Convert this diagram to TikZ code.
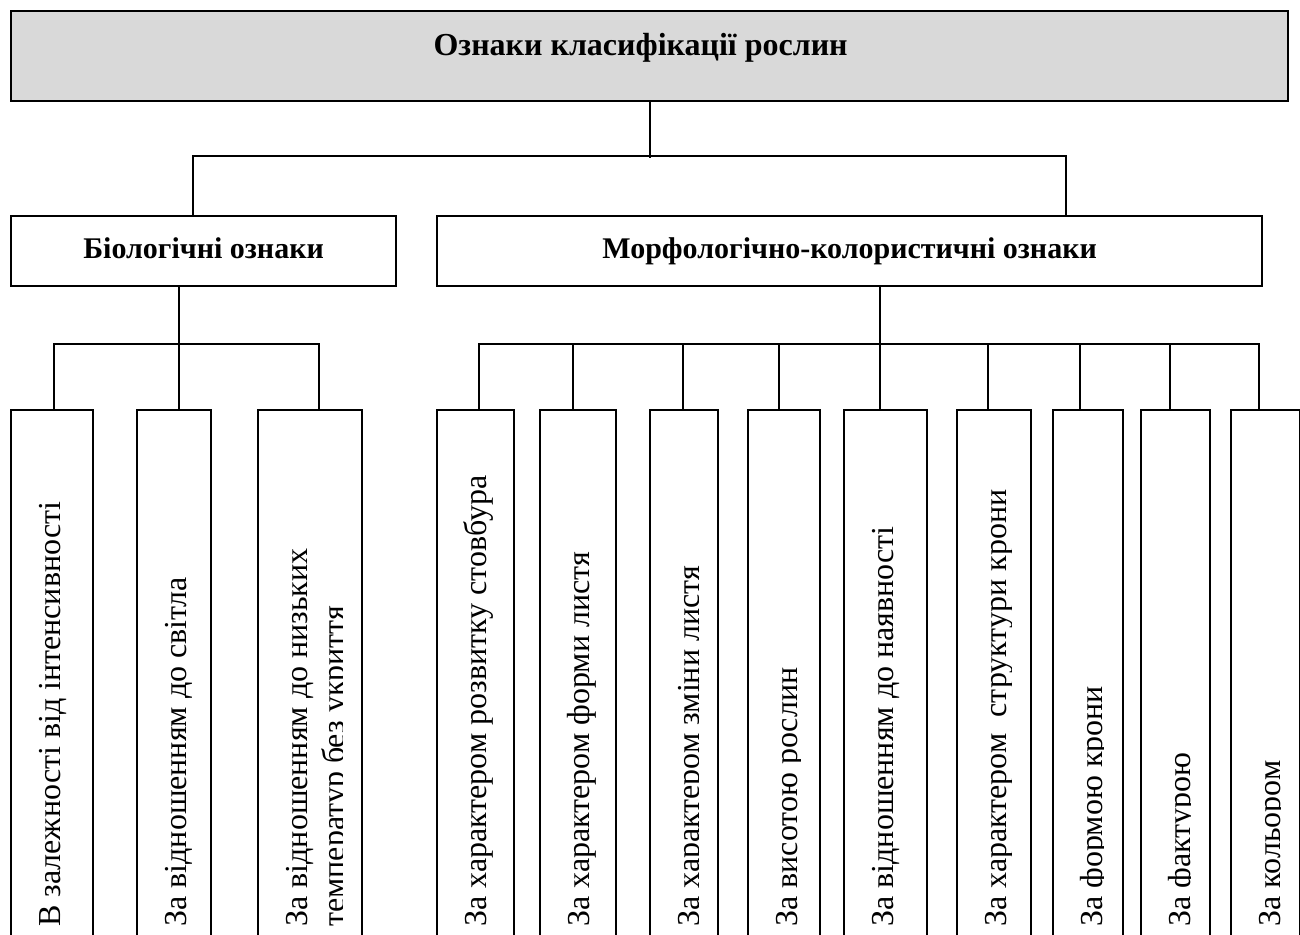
\documentclass[tikz,border=0pt]{standalone}
\usepackage{fontspec}
\setmainfont{Liberation Serif}
\usepackage{tikz}
\usetikzlibrary{positioning,   % placement relatif
                calc}          % calculs de coordonnees
\definecolor{siryi}{RGB}{217,217,217}
\tikzset{
  ramka/.style={draw, line width=1.1pt, inner sep=0pt, anchor=north west},
  golov/.style={ramka, fill=siryi, minimum width=638.5pt, minimum height=45pt,
                text height=10pt, text depth=11pt, font=\bfseries\fontsize{16pt}{19pt}\selectfont},
  grupa/.style={ramka, minimum height=35pt, text height=10pt, text depth=3pt,
                font=\bfseries\fontsize{15pt}{18pt}\selectfont},
  kryt/.style={ramka, minimum height=275.5pt},
  vtext/.style={rotate=90, anchor=base west, inner sep=0pt, align=left,
                font=\fontsize{16pt}{18.5pt}\selectfont},
  zv/.style={line width=1pt},
}
% boite verticale : [decalage de la derniere ligne], nom, gauche, droite, texte
\newcommand{\oznaka}[5][25pt]{%
  \node[kryt, minimum width={(#4-#3)*0.5pt}] (#2) at (#3,409) {};
  \begin{scope}
    \clip (#2.north west) rectangle ([xshift=-10.5pt]#2.south east);
    \node[vtext] at ([xshift=#1,yshift=-259pt]#2.north west) {#5};
  \end{scope}}

\begin{document}
\begin{tikzpicture}[x=0.5pt, y=-0.5pt]
\clip (0,0) rectangle (1300,934);
\node[golov] (top) at (10,10) {Ознаки класифікації рослин\hspace*{9pt}};
\node[grupa, minimum width=192.5pt] (bio) at (10,215) {Біологічні ознаки};
\node[grupa, minimum width=412.5pt] (morph) at (436,215) {Морфологічно-колористичні ознаки};
% ознаки
\oznaka{b1}{10}{92}{В залежності від інтенсивності}
\oznaka{b2}{136}{210}{За відношенням до світла}
\oznaka[43.5pt]{b3}{257}{361}{За відношенням до низьких\\температур без укриття}
\oznaka{m1}{436}{513}{За характером розвитку стовбура}
\oznaka{m2}{539}{615}{За характером форми листя}
\oznaka{m3}{649}{717}{За характером зміни листя}
\oznaka{m4}{747}{819}{За висотою рослин}
\oznaka{m5}{843}{926}{За відношенням до наявності}
\oznaka{m6}{956}{1030}{За характером\ \ структури крони}
\oznaka{m7}{1052}{1122}{За формою крони}
\oznaka{m8}{1140}{1209}{За фактурою}
\oznaka{m9}{1230}{1299}{За кольором}
% liaisons
\draw[zv] (top.south) -- ++(0,56);
\draw[zv] ([xshift=-5.25pt]bio.north) -- ++(0,-59) -| ([xshift=108.25pt]morph.north);
\draw[zv] ([xshift=-12.5pt]bio.south) -- ++(0,59);
\draw[zv] ([xshift=1pt]b1.north) -- ++(0,-65) -| ([xshift=4.5pt]b3.north);
\draw[zv] ([xshift=2.25pt]b2.north) -- ++(0,-65);
\draw[zv] ([xshift=15.25pt]morph.south) -- ++(0,59);
\draw[zv] ([xshift=1.75pt]m1.north) -- ++(0,-65) -| ([xshift=-3.25pt]m9.north);
\foreach \k/\dx in {m2/-2.5, m3/-0.5, m4/-2.5, m5/-2.75, m6/-3, m7/-4, m8/-2.75}
  \draw[zv] ([xshift=\dx pt]\k.north) -- ++(0,-65);
\end{tikzpicture}
\end{document}
